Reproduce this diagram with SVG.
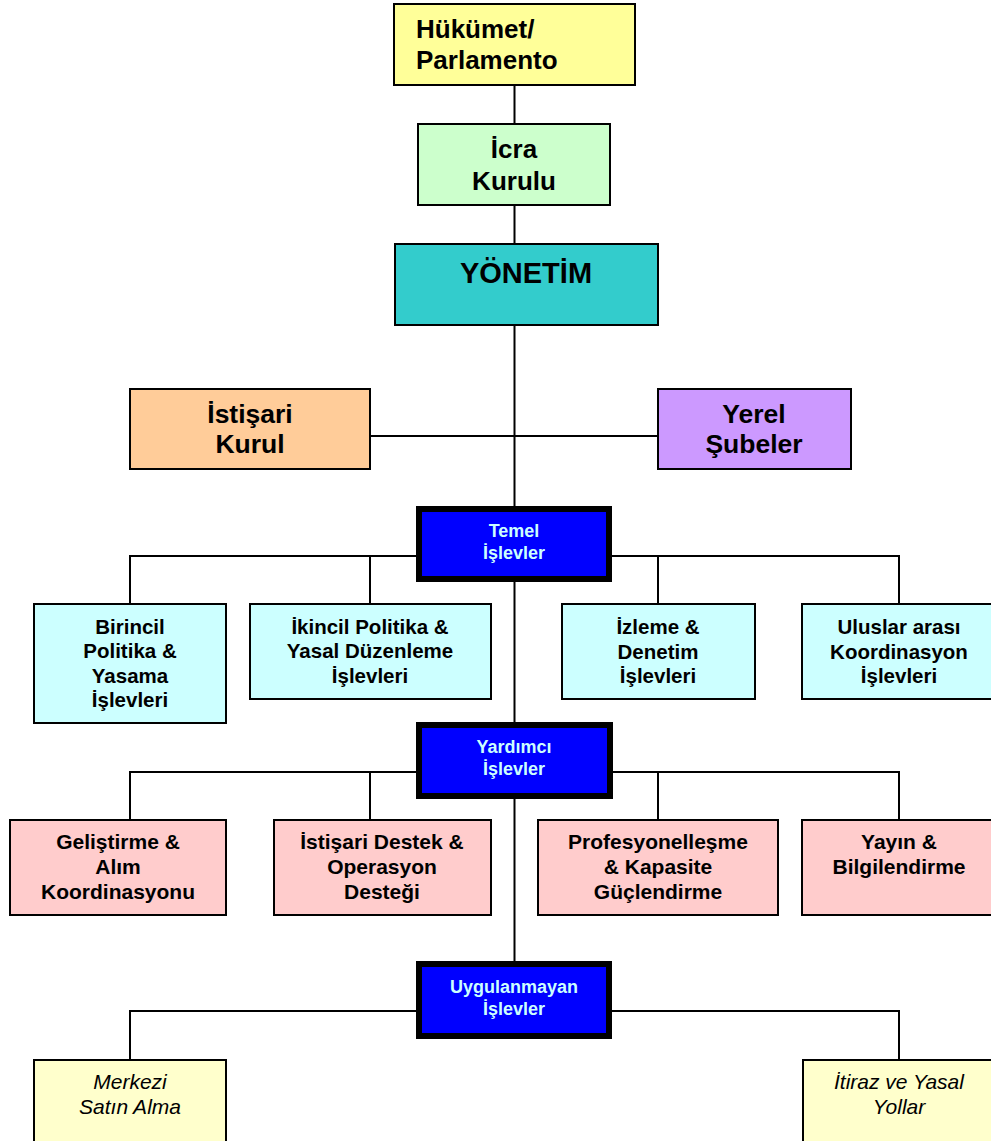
<svg xmlns="http://www.w3.org/2000/svg" width="991" height="1141" viewBox="0 0 991 1141">
<style>
.b{stroke:#000;stroke-width:2}
.k{fill:#0000ff;stroke:#000;stroke-width:6}
.c{stroke:#000;stroke-width:2;fill:none}
text{font-family:"Liberation Sans",Arial,sans-serif;font-weight:bold;fill:#000;text-anchor:middle}
.w{fill:#ccffff;font-size:18px}
.t1{font-size:20.5px}
.t2{font-size:21px}
.it{font-weight:normal;font-style:italic;font-size:21px}
</style>
<rect width="991" height="1141" fill="#fff"/>
<g id="connectors">
<line class="c" x1="514.5" y1="85" x2="514.5" y2="963"/>
<line class="c" x1="370" y1="436" x2="658" y2="436"/>
<polyline class="c" points="130,604 130,556 899,556 899,604"/>
<line class="c" x1="370" y1="556" x2="370" y2="604"/>
<line class="c" x1="658" y1="556" x2="658" y2="604"/>
<polyline class="c" points="130,820 130,772 899,772 899,820"/>
<line class="c" x1="370" y1="772" x2="370" y2="820"/>
<line class="c" x1="658" y1="772" x2="658" y2="820"/>
<polyline class="c" points="130,1060 130,1011 899,1011 899,1060"/>
</g>
<g id="hukumet">
<rect class="b" x="394" y="4" width="241" height="81" fill="#ffff99"/>
<text x="416" y="38" font-size="26" style="text-anchor:start">Hükümet/</text>
<text x="416" y="69" font-size="26" style="text-anchor:start">Parlamento</text>
</g>
<g id="icra">
<rect class="b" x="418" y="124" width="192" height="81" fill="#ccffcc"/>
<text x="514" y="158" font-size="26">İcra</text>
<text x="514" y="190" font-size="26">Kurulu</text>
</g>
<g id="yonetim">
<rect class="b" x="395" y="244" width="263" height="81" fill="#33cccc"/>
<text x="526" y="283" font-size="29">YÖNETİM</text>
</g>
<g id="istisari">
<rect class="b" x="130" y="389" width="240" height="80" fill="#ffcc99"/>
<text x="250" y="423" font-size="26.5">İstişari</text>
<text x="250" y="453" font-size="26.5">Kurul</text>
</g>
<g id="yerel">
<rect class="b" x="658" y="389" width="193" height="80" fill="#cc99ff"/>
<text x="754" y="423" font-size="26.5">Yerel</text>
<text x="754" y="453" font-size="26.5">Şubeler</text>
</g>
<g id="temel">
<rect class="k" x="419" y="509" width="190" height="70"/>
<text class="w" x="514" y="537">Temel</text>
<text class="w" x="514" y="559">İşlevler</text>
</g>
<g id="birincil">
<rect class="b" x="34" y="604" width="192" height="119" fill="#ccffff"/>
<text class="t1" x="130" y="634">Birincil</text>
<text class="t1" x="130" y="658">Politika &amp;</text>
<text class="t1" x="130" y="683">Yasama</text>
<text class="t1" x="130" y="707">İşlevleri</text>
</g>
<g id="ikincil">
<rect class="b" x="250" y="604" width="241" height="95" fill="#ccffff"/>
<text class="t1" x="370" y="634">İkincil Politika &amp;</text>
<text class="t1" x="370" y="658">Yasal Düzenleme</text>
<text class="t1" x="370" y="683">İşlevleri</text>
</g>
<g id="izleme">
<rect class="b" x="562" y="604" width="193" height="95" fill="#ccffff"/>
<text class="t1" x="658" y="634">İzleme &amp;</text>
<text class="t1" x="658" y="659">Denetim</text>
<text class="t1" x="658" y="683">İşlevleri</text>
</g>
<g id="uluslar">
<rect class="b" x="802" y="604" width="192" height="95" fill="#ccffff"/>
<text class="t1" x="899" y="634">Uluslar arası</text>
<text class="t1" x="899" y="659">Koordinasyon</text>
<text class="t1" x="899" y="683">İşlevleri</text>
</g>
<g id="yardimci">
<rect class="k" x="419" y="725" width="191" height="71"/>
<text class="w" x="514" y="753">Yardımcı</text>
<text class="w" x="514" y="775">İşlevler</text>
</g>
<g id="gelistirme">
<rect class="b" x="10" y="820" width="216" height="95" fill="#ffcccc"/>
<text class="t2" x="118" y="849">Geliştirme &amp;</text>
<text class="t2" x="118" y="874">Alım</text>
<text class="t2" x="118" y="899">Koordinasyonu</text>
</g>
<g id="istisaridestek">
<rect class="b" x="274" y="820" width="217" height="95" fill="#ffcccc"/>
<text class="t2" x="382" y="849">İstişari Destek &amp;</text>
<text class="t2" x="382" y="874">Operasyon</text>
<text class="t2" x="382" y="899">Desteği</text>
</g>
<g id="profesyonel">
<rect class="b" x="538" y="820" width="240" height="95" fill="#ffcccc"/>
<text class="t2" x="658" y="849">Profesyonelleşme</text>
<text class="t2" x="658" y="874">&amp; Kapasite</text>
<text class="t2" x="658" y="899">Güçlendirme</text>
</g>
<g id="yayin">
<rect class="b" x="802" y="820" width="192" height="95" fill="#ffcccc"/>
<text class="t2" x="899" y="849">Yayın &amp;</text>
<text class="t2" x="899" y="874">Bilgilendirme</text>
</g>
<g id="uygulanmayan">
<rect class="k" x="419" y="964" width="190" height="72"/>
<text class="w" x="514" y="993">Uygulanmayan</text>
<text class="w" x="514" y="1015">İşlevler</text>
</g>
<g id="merkezi">
<rect class="b" x="34" y="1060" width="192" height="90" fill="#ffffcc"/>
<text class="it" x="130" y="1089">Merkezi</text>
<text class="it" x="130" y="1114">Satın Alma</text>
</g>
<g id="itiraz">
<rect class="b" x="803" y="1060" width="192" height="90" fill="#ffffcc"/>
<text class="it" x="899" y="1089">İtiraz ve Yasal</text>
<text class="it" x="899" y="1114">Yollar</text>
</g>
</svg>
